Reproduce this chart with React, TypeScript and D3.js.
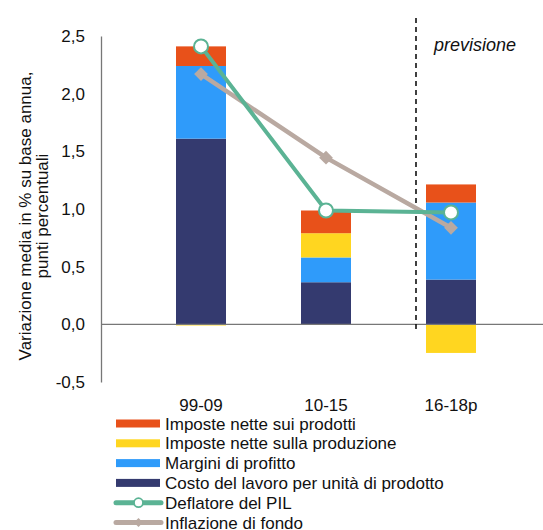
import React, { useEffect, useRef } from 'react';
import * as d3 from 'd3';

// categories and values
const periods = ['99-09', '10-15', '16-18p'];
const costoLavoro = [1.61, 0.365, 0.388];
const marginiProfitto = [0.63, 0.215, 0.668];
const imposteProduzione = [-0.01, 0.21, -0.248];
const imposteProdotti = [0.17, 0.197, 0.157];
const deflatorePil = [2.41, 0.987, 0.97];
const inflazioneFondo = [2.17, 1.445, 0.837];
const yTicks = [-0.5, 0, 0.5, 1, 1.5, 2, 2.5];

const seriesKeys = ['costo', 'margini', 'produzione', 'prodotti'];
const colors: Record<string, string> = {
  costo: '#343a6f',
  margini: '#2f9bfa',
  produzione: '#ffd620',
  prodotti: '#e8511a',
};
const green = '#5bb394';
const taupe = '#b9a9a1';
const font = 'Liberation Sans, Arial, sans-serif';
const fs = 17;

const App: React.FC = () => {
  const svgRef = useRef<SVGSVGElement | null>(null);

  useEffect(() => {
    const width = 543;
    const height = 530;
    const margin = { top: 36, left: 101, bottom: 382 };

    const svg = d3.select(svgRef.current).attr('width', width).attr('height', height);
    svg.selectAll('*').remove();

    const x = d3.scaleBand().domain(periods).range([margin.left, margin.left + 450]).padding(0.6);
    const xc = (p: string) => (x(p) as number) + x.bandwidth() / 2;
    const y = d3.scaleLinear().domain([-0.5, 2.5]).range([margin.bottom, margin.top]);

    // table for the stack
    const rows = periods.map((p, i) => ({
      period: p,
      costo: costoLavoro[i],
      margini: marginiProfitto[i],
      produzione: imposteProduzione[i],
      prodotti: imposteProdotti[i],
    }));
    const stacked = d3.stack<any>().keys(seriesKeys).offset(d3.stackOffsetDiverging)(rows);

    // bars
    svg.append('g')
      .selectAll('g')
      .data(stacked)
      .enter()
      .append('g')
      .attr('fill', d => colors[d.key])
      .selectAll('rect')
      .data(d => d)
      .enter()
      .append('rect')
      .attr('x', d => x(d.data.period) as number)
      .attr('width', x.bandwidth())
      .attr('y', d => y(Math.max(d[0], d[1])))
      .attr('height', d => Math.abs(y(d[0]) - y(d[1])));

    // y axis
    const yAxis = svg.append('g').attr('transform', `translate(${margin.left},0)`)
      .call(d3.axisLeft(y).tickValues(yTicks).tickSize(0).tickPadding(16)
        .tickFormat(d => d3.format('.1f')(d as number).replace('.', ',').replace('−', '-')));
    yAxis.select('.domain').attr('stroke', '#777').attr('stroke-width', 1.3);
    yAxis.selectAll('text').attr('font-family', font).attr('font-size', fs).attr('fill', '#111');

    // x axis at zero
    const xAxis = svg.append('g').attr('transform', `translate(0,${y(0)})`)
      .call(d3.axisBottom(x).tickSize(0).tickPadding(0));
    xAxis.select('.domain').attr('stroke', '#777').attr('stroke-width', 1.3).attr('d', `M${margin.left},0H${width}`);
    xAxis.selectAll('text')
      .attr('font-family', font).attr('font-size', fs).attr('fill', '#111')
      .attr('dy', 0).attr('y', y(-0.5) - y(0) + 29);

    // forecast separator
    svg.append('line')
      .attr('x1', 416).attr('x2', 416).attr('y1', 18).attr('y2', y(-0.07))
      .attr('stroke', '#111').attr('stroke-width', 1.6).attr('stroke-dasharray', '5,4');
    svg.append('text')
      .attr('x', 434).attr('y', 51)
      .attr('font-family', font).attr('font-size', 18).attr('font-style', 'italic').attr('fill', '#111')
      .text('previsione');

    // lines
    const line = d3.line<number>().x((_, i) => xc(periods[i])).y(d => y(d));
    svg.append('path').datum(inflazioneFondo).attr('d', line)
      .attr('fill', 'none').attr('stroke', taupe).attr('stroke-width', 4.5);
    svg.append('path').datum(deflatorePil).attr('d', line)
      .attr('fill', 'none').attr('stroke', green).attr('stroke-width', 4);

    const diamond = d3.symbol().type(d3.symbolDiamond2).size(120);
    svg.selectAll('.diam').data(inflazioneFondo).enter().append('path')
      .attr('d', diamond)
      .attr('transform', (d, i) => `translate(${xc(periods[i])},${y(d)})`)
      .attr('fill', taupe);
    svg.selectAll('.circ').data(deflatorePil).enter().append('circle')
      .attr('cx', (_, i) => xc(periods[i])).attr('cy', d => y(d)).attr('r', 7)
      .attr('fill', '#fff').attr('stroke', green).attr('stroke-width', 2);

    // y label
    const yl = svg.append('text')
      .attr('transform', 'translate(0,216) rotate(-90)')
      .attr('font-family', font).attr('font-size', fs).attr('fill', '#111').attr('text-anchor', 'middle');
    yl.append('tspan').attr('x', 0).attr('y', 31).text('Variazione media in % su base annua,');
    yl.append('tspan').attr('x', 0).attr('y', 48).text('punti percentuali');

    // legend
    const legendItems = [
      { label: 'Imposte nette sui prodotti', kind: 'bar', color: colors.prodotti },
      { label: 'Imposte nette sulla produzione', kind: 'bar', color: colors.produzione },
      { label: 'Margini di profitto', kind: 'bar', color: colors.margini },
      { label: 'Costo del lavoro per unità di prodotto', kind: 'bar', color: colors.costo },
      { label: 'Deflatore del PIL', kind: 'circle', color: green },
      { label: 'Inflazione di fondo', kind: 'diamond', color: taupe },
    ];
    const lg = svg.append('g');
    legendItems.forEach((it, i) => {
      const cy = 423.5 + i * 19.8;
      const g = lg.append('g').attr('transform', `translate(0,${cy})`);
      if (it.kind === 'bar') {
        g.append('rect').attr('x', 116).attr('y', -4).attr('width', 44).attr('height', 8).attr('fill', it.color);
      } else {
        g.append('line').attr('x1', 116).attr('x2', 161).attr('y1', 0).attr('y2', 0)
          .attr('stroke', it.color).attr('stroke-width', 5).attr('stroke-linecap', 'round');
        if (it.kind === 'circle') {
          g.append('circle').attr('cx', 138.5).attr('cy', 0).attr('r', 4.5)
            .attr('fill', '#fff').attr('stroke', it.color).attr('stroke-width', 1.8);
        } else {
          g.append('path').attr('d', d3.symbol().type(d3.symbolDiamond2).size(50)())
            .attr('transform', 'translate(138.5,0)').attr('fill', it.color);
        }
      }
      g.append('text').attr('x', 165).attr('y', 6)
        .attr('font-family', font).attr('font-size', fs).attr('fill', '#111').text(it.label);
    });
  }, []);

  return (
    <div style={{ position: 'absolute', left: 0, top: 0 }}>
      <svg ref={svgRef}></svg>
    </div>
  );
};

export default App;
